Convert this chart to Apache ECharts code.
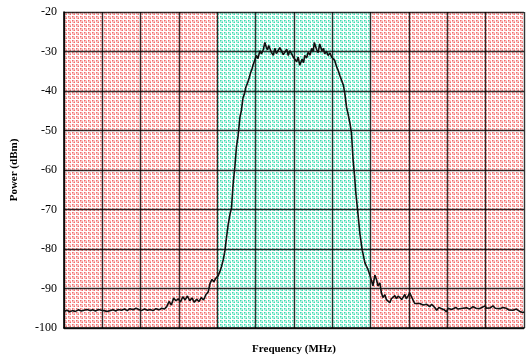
<!DOCTYPE html>
<html>
<head>
<meta charset="utf-8">
<script src="https://cdn.jsdelivr.net/npm/echarts@6/dist/echarts.min.js"></script>
<style>html,body{margin:0;padding:0;background:#fff}#c{width:529px;height:360px}</style>
</head>
<body>
<div id="c"></div>
<script>
// Frequency axis in grid divisions (12 divisions, no tick labels shown)
const freq = [
0.00,0.08,0.15,0.22,0.30,0.38,0.45,0.52,0.60,0.68,0.75,0.82,0.90,0.98,1.05,1.12,1.20,1.28,1.35,1.42,
1.50,1.58,1.65,1.72,1.80,1.88,1.95,2.02,2.10,2.18,2.25,2.32,2.40,2.48,2.55,2.62,2.68,2.74,2.80,2.86,
2.92,2.98,3.04,3.10,3.16,3.22,3.28,3.34,3.40,3.46,3.52,3.58,3.64,3.70,3.76,3.81,3.86,3.91,3.96,4.02,
4.07,4.11,4.16,4.20,4.24,4.28,4.33,4.37,4.41,4.46,4.50,4.54,4.59,4.63,4.67,4.71,4.74,4.79,4.83,4.87,
4.90,4.93,4.97,5.02,5.06,5.11,5.15,5.20,5.24,5.28,5.31,5.34,5.37,5.41,5.46,5.50,5.54,5.59,5.63,5.68,
5.72,5.76,5.81,5.85,5.89,5.94,5.98,6.03,6.07,6.11,6.15,6.21,6.25,6.28,6.33,6.37,6.42,6.46,6.50,6.53,
6.59,6.63,6.67,6.73,6.77,6.80,6.85,6.89,6.94,6.98,7.02,7.06,7.11,7.16,7.20,7.25,7.29,7.33,7.37,7.41,
7.46,7.50,7.54,7.58,7.61,7.67,7.72,7.78,7.85,7.93,7.98,8.02,8.06,8.11,8.15,8.19,8.24,8.28,8.32,8.37,
8.41,8.46,8.50,8.54,8.58,8.63,8.67,8.72,8.76,8.81,8.85,8.89,8.93,8.98,9.02,9.06,9.09,9.15,9.20,9.28,
9.33,9.37,9.42,9.46,9.50,9.54,9.59,9.63,9.68,9.72,9.78,9.85,9.92,9.98,10.02,10.06,10.11,10.15,10.22,10.28,
10.32,10.40,10.45,10.50,10.58,10.62,10.67,10.75,10.80,10.84,10.90,10.98,11.02,11.06,11.12,11.19,11.25,11.30,11.37,11.45,
11.50,11.54,11.60,11.65,11.71,11.76,11.80,11.85,11.89,11.94,11.97,12.00
];
const power = [
-95.8,-95.5,-95.9,-95.6,-95.8,-95.4,-95.7,-95.5,-95.3,-95.6,-95.4,-95.7,-95.3,-95.5,-95.6,-95.8,-95.6,-95.4,-95.7,-95.3,
-95.5,-95.2,-95.6,-95.1,-95.4,-95.0,-95.3,-95.6,-95.2,-95.5,-95.3,-95.6,-95.1,-95.4,-95.0,-95.2,-94.6,-93.3,-94.2,-92.4,
-93.1,-92.6,-93.4,-92.1,-92.9,-91.9,-93.1,-92.4,-93.5,-92.7,-93.3,-92.3,-92.9,-91.6,-90.9,-88.7,-87.7,-88.3,-87.4,-86.8,
-85.6,-84.4,-82.5,-80.3,-77.0,-74.0,-71.2,-69.6,-63.8,-58.9,-54.0,-51.5,-46.6,-44.8,-41.7,-40.6,-39.2,-37.9,-36.7,-35.3,
-34.6,-33.5,-32.4,-31.0,-31.8,-29.8,-30.6,-29.5,-27.7,-29.0,-29.6,-28.5,-28.8,-30.2,-31.0,-29.2,-30.5,-30.2,-29.0,-29.5,
-30.8,-30.2,-29.4,-31.0,-29.8,-30.6,-31.4,-31.9,-32.6,-31.4,-33.5,-32.0,-32.8,-31.0,-31.6,-30.2,-30.9,-29.2,-30.0,-27.7,
-29.5,-30.3,-28.1,-29.8,-29.2,-30.6,-30.0,-31.0,-30.4,-31.4,-31.0,-32.2,-33.8,-35.0,-36.2,-37.5,-38.6,-40.9,-44.1,-45.8,
-48.2,-50.7,-57.3,-61.5,-65.5,-71.2,-76.2,-80.3,-83.5,-85.2,-86.6,-88.0,-89.3,-86.6,-87.7,-89.3,-88.6,-91.1,-92.3,-91.6,
-92.8,-93.2,-93.6,-92.6,-92.3,-91.8,-92.6,-91.9,-91.7,-92.8,-92.5,-91.5,-92.6,-91.8,-91.1,-92.0,-92.6,-93.8,-93.4,-93.8,
-94.3,-94.2,-93.8,-94.0,-94.5,-94.6,-94.0,-94.2,-94.9,-95.5,-94.8,-95.1,-95.4,-95.9,-95.0,-94.6,-95.3,-95.1,-94.8,-95.2,
-94.7,-95.0,-94.8,-94.9,-95.2,-94.8,-94.6,-95.0,-94.8,-95.1,-94.8,-94.4,-95.0,-94.7,-94.9,-94.4,-95.0,-94.7,-95.1,-94.8,
-95.2,-95.0,-95.4,-95.1,-95.5,-95.0,-95.2,-95.6,-95.8,-95.4,-96.1,-95.9
];
// Shaded bands (in frequency divisions)
const outBandLeft = [0, 4];
const inBand = [4, 8];
const outBandRight = [8, 12];
const yTicks = [-100, -90, -80, -70, -60, -50, -40, -30, -20];

function makePattern(dark, mid, light) {
  const W = '#ffffff';
  const c = document.createElement('canvas');
  c.width = 4; c.height = 4;
  const g = c.getContext('2d');
  const cols = [
    [dark, mid, light, W],
    [mid, light, mid, W],
    [light, mid, dark, W],
    [W, W, W, W]
  ];
  for (let y = 0; y < 4; y++) for (let x = 0; x < 4; x++) {
    g.fillStyle = cols[y][x]; g.fillRect(x, y, 1, 1);
  }
  return { image: c, repeat: 'repeat' };
}
const pinkPat = makePattern('#f26c6c', '#f8a6a6', '#fcd2d2');
const cyanPat = makePattern('#38dab0', '#8cebd1', '#c8f6e9');

const serif = '"Liberation Serif", "Times New Roman", serif';
const gridLine = { show: true, lineStyle: { color: 'rgba(0,0,0,0.8)', width: 1.4 } };
const chart = echarts.init(document.getElementById('c'), null, { renderer: 'canvas' });
chart.setOption({
  animation: false,
  grid: { left: 64, right: 5, top: 12, bottom: 23, show: false },
  xAxis: {
    type: 'value', min: 0, max: 12, interval: 1, z: 3,
    name: 'Frequency (MHz)', nameLocation: 'middle', nameGap: 16,
    nameTextStyle: { fontFamily: serif, fontWeight: 'bold', fontSize: 11, color: '#000' },
    axisLine: { show: true, onZero: false, lineStyle: { color: '#000', width: 1.6 } },
    axisTick: { show: false }, axisLabel: { show: false },
    splitLine: gridLine
  },
  yAxis: {
    type: 'value', min: yTicks[0], max: yTicks[yTicks.length - 1], interval: 10, z: 3,
    name: 'Power (dBm)', nameLocation: 'middle', nameGap: 44,
    nameTextStyle: { fontFamily: serif, fontWeight: 'bold', fontSize: 11, color: '#000' },
    axisLine: { show: true, lineStyle: { color: '#000', width: 1.6 } },
    axisTick: { show: false },
    axisLabel: { fontFamily: serif, fontSize: 12, color: '#000', margin: 7 },
    splitLine: gridLine
  },
  series: [{
    type: 'line', data: [], silent: true, z: 1,
    markArea: {
      silent: true,
      data: [
        [{ xAxis: outBandLeft[0], itemStyle: { color: pinkPat } }, { xAxis: outBandLeft[1] }],
        [{ xAxis: inBand[0], itemStyle: { color: cyanPat } }, { xAxis: inBand[1] }],
        [{ xAxis: outBandRight[0], itemStyle: { color: pinkPat } }, { xAxis: outBandRight[1] }]
      ]
    }
  }, {
    type: 'line', showSymbol: false, silent: true, z: 5,
    data: freq.map((f, i) => [f, power[i]]),
    lineStyle: { color: '#111', width: 1.6 }
  }]
});
</script>
</body>
</html>
